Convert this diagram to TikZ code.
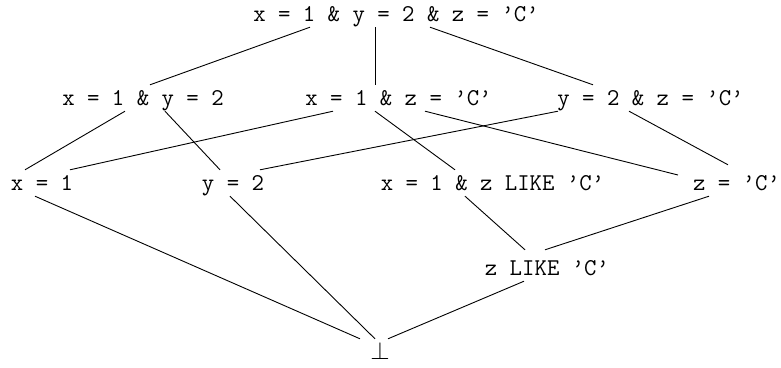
\documentclass[tikz,border=0pt]{standalone}
\usepackage{tikz}
\usetikzlibrary{positioning}
\tikzset{
  lbl/.style={font=\fontsize{24.1}{28}\selectfont\ttfamily,inner sep=0pt,minimum height=26pt,text height=20pt,text depth=6pt},
  ln/.style={line width=0.9pt},
}

\begin{document}
\begin{tikzpicture}[x=1pt,y=-1pt]
\useasboundingbox (0,0) rectangle (781,367);
\node[lbl] (top) at (396,14) {x = 1 \& y = 2 \& z = ’C’};
\node[lbl] (x1y2) at (143,98) {x = 1 \& y = 2};
\node[lbl] (x1z) at (398.5,98) {x = 1 \& z = ’C’};
\node[lbl] (y2z) at (650.5,98) {y = 2 \& z = ’C’};
\node[lbl] (x1) at (42,183) {x = 1};
\node[lbl] (y2) at (233,183) {y = 2};
\node[lbl] (x1zl) at (492.5,183) {x = 1 \& z LIKE ’C’};
\node[lbl] (zC) at (736.5,183) {z = ’C’};
\node[lbl] (zl) at (547,268) {z LIKE ’C’};
\node[lbl] (bot) at (380,352) {$\bot$};
\draw[ln] ([xshift=-86pt]top.south) -- ([xshift=7pt]x1y2.north);
\draw[ln] ([xshift=-21pt]top.south) -- ([xshift=-23.5pt]x1z.north);
\draw[ln] ([xshift=34pt]top.south) -- ([xshift=-57.5pt]y2z.north);
\draw[ln] ([xshift=-18pt]x1y2.south) -- ([xshift=-17pt]x1.north);
\draw[ln] ([xshift=22pt]x1y2.south) -- ([xshift=-13pt]y2.north);
\draw[ln] ([xshift=-65.5pt]x1z.south) -- ([xshift=28pt]x1.north);
\draw[ln] ([xshift=-23.5pt]x1z.south) -- ([xshift=-37.5pt]x1zl.north);
\draw[ln] ([xshift=26.5pt]x1z.south) -- ([xshift=-58.5pt,yshift=8pt]zC.center);
\draw[ln] ([xshift=-92.5pt]y2z.south) -- ([xshift=27pt]y2.north);
\draw[ln] ([xshift=-21.5pt]y2z.south) -- ([xshift=-8.5pt,yshift=5pt]zC.north);
\draw[ln] ([xshift=-27.5pt]x1zl.south) -- ([xshift=-22pt,yshift=5pt]zl.north);
\draw[ln] ([xshift=-27.5pt]zC.south) -- ([xshift=-2pt,yshift=5pt]zl.north);
\draw[ln] ([xshift=-7pt]x1.south) -- ([xshift=-20pt]bot.north);
\draw[ln] ([xshift=-3pt]y2.south) -- ([xshift=-5pt]bot.north);
\draw[ln] ([xshift=-23pt]zl.south) -- ([xshift=8pt]bot.north);
\end{tikzpicture}
\end{document}
